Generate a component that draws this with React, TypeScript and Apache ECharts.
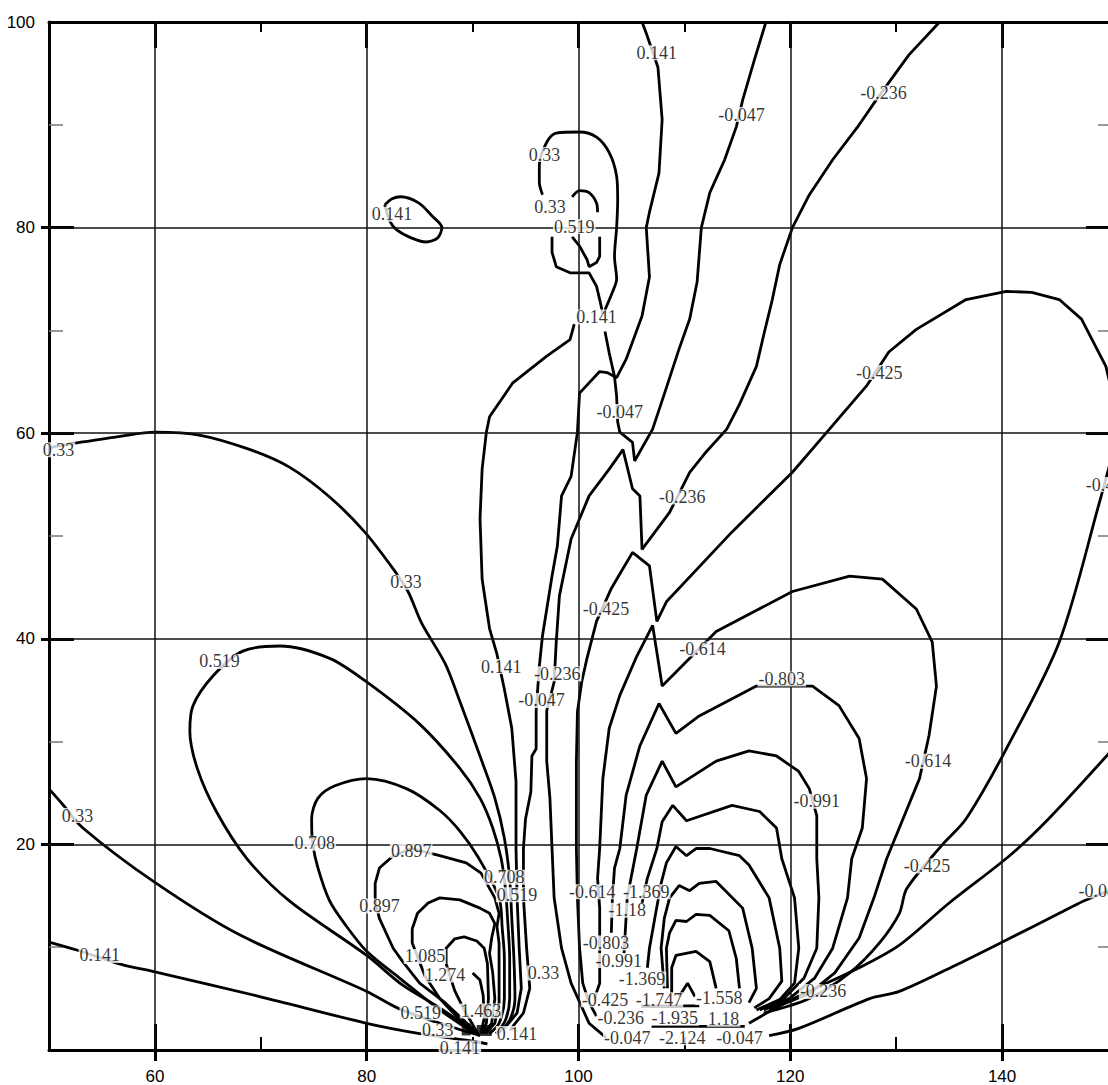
import React, { useEffect, useRef } from 'react';
import * as echarts from 'echarts';

// ---- axes ----
const xMajor = [60, 80, 100, 120, 140];
const xMinor = [70, 90, 110, 130];
const yMajor = [20, 40, 60, 80];
const yMinor = [10, 30, 50, 70, 90];
const yLabels = [20, 40, 60, 80, 100];
const gridX = [60, 80, 100, 120, 140];
const gridY = [20, 40, 60, 80];

// ---- contour lines (x, y) ----
const c0141Left = [[50,10.5],[52.7,9.7],[56.9,8.3],[60,7.6],[69.9,5.2],[80,2.6],[85,1.6],[89.7,0.9],[91.4,0.6]];
const c033Left = [[50,25.4],[51.2,24.0],[53.2,21.6],[60,16.3],[68,11.2],[80,5.7],[83.1,4.0],[86.9,2.6],[90.7,1.4]];
const c033Arc = [[50,58.6],[52.9,59.1],[56.7,59.7],[60,60.1],[64.3,59.8],[69.0,58.4],[72.7,56.7],[76.5,53.8],[79.8,50.4],[82.5,46.8],[83.9,44.6],[85.2,41.5],[87.4,37.6],[88.8,33.9],[90.8,28.3],[92.1,24.5],[93.0,20.6],[93.5,16.7],[93.7,12.8],[93.9,8.9],[94.0,5.0],[93.5,2.9],[92.5,1.7]];
const c0519Loop = [[89.7,2.1],[86.9,4.1],[83.4,6.3],[80,9.2],[72.7,14.5],[68.7,18.6],[65.8,23.2],[64.0,27.4],[63.3,31.0],[63.6,33.5],[65.5,36.4],[68.3,38.8],[71.8,39.3],[76.5,38.1],[80,35.8],[85.0,31.7],[88.8,27.4],[90.7,24.5],[91.9,21.6],[92.7,18.6],[93.1,15.7],[93.3,12.8],[93.5,8.9],[93.5,5.0],[93.1,2.9],[92.2,1.6]];
const c0708Loop = [[90.2,1.6],[86.9,3.9],[83.1,7.0],[80,9.6],[77.9,12.3],[76.5,14.5],[75.4,17.7],[74.9,20.1],[74.8,22.5],[75.4,24.5],[77.0,25.7],[80,26.4],[83.8,25.4],[86.9,23.3],[88.8,21.3],[90.5,18.8],[92.5,14.8],[92.8,11.8],[93.0,8.9],[93.0,5.0],[92.5,2.6],[91.6,1.6]];
const c0897Loop = [[90.5,1.6],[87.4,4.6],[85.0,6.5],[83.4,8.6],[82.5,9.9],[81.2,12.8],[80.8,14.5],[80.8,16.2],[81.2,17.7],[82.4,18.8],[84.2,19.6],[86.9,18.9],[89.4,18.2],[90.8,17.2],[92.1,14.8],[92.5,13.3],[92.3,12.0],[92.5,10.4],[92.5,7.5],[92.5,4.6],[92.1,2.6],[91.2,1.6]];
const c1085Loop = [[90.7,1.4],[88.8,2.9],[86.9,5.0],[85.5,7.2],[84.3,10.4],[84.3,11.8],[84.8,13.3],[85.8,14.3],[86.9,14.8],[88.8,14.6],[90.7,13.8],[91.6,13.3],[92.1,12.3],[91.8,10.9],[91.6,9.4],[91.9,7.5],[92.1,5.0],[91.8,2.6],[91.0,1.6]];
const c1274Loop = [[90.5,1.6],[89.2,3.9],[88.3,5.8],[87.5,8.4],[87.5,9.9],[88.3,10.8],[89.2,11.0],[90.4,10.6],[91.1,9.9],[91.4,8.4],[91.5,5.0],[91.3,2.6],[90.8,1.6]];
const c1463 = [[90.0,7.5],[90.7,6.8],[91.0,5.3],[91.1,3.1],[90.8,1.7]];
const c0141Center = [[99.6,70.6],[99.2,69.1],[97.0,67.5],[93.8,64.9],[91.6,61.6],[91.3,60.1],[90.9,56.5],[90.7,51.7],[90.9,45.8],[91.6,41.0],[92.3,38.5],[93.0,35.1],[93.7,31.3],[94.1,26.1],[94.1,23.2],[94.1,19.6],[94.2,14.8],[94.4,9.9],[94.6,6.0],[94.2,3.6],[93.0,2.1]];
const c0141Top = [[106.0,100],[106.4,98.9],[107.5,95.6],[107.9,90.5],[107.6,85.3],[106.7,81.5],[106.4,80],[106.7,75.2],[106.0,71.4],[104.5,67.2],[103.6,65.4],[102.7,65.9],[102.0,66.0],[100.1,63.9],[99.9,60.1],[99.3,55.8],[98.4,53.9],[98.0,49.0],[97.5,46.1],[96.6,40.3],[96.3,37.3],[96.0,33.0],[96.0,29.3],[95.6,28.6],[95.5,25.1],[95.0,22.5],[94.8,19.6],[94.8,14.8],[95.1,9.9],[95.4,6.0],[94.8,3.6],[93.5,1.9]];
const cM0047Top = [[117.7,100],[116.6,96.3],[115.5,92.4],[114.9,89.8],[113.8,86.6],[112.4,83.4],[111.6,80],[111.2,74.7],[110.5,71.1],[109.5,68.2],[108.1,63.8],[107.0,60.4],[105.3,57.3],[105.1,59.1],[103.9,60.1],[103.7,61.1],[103.6,63.6],[103.4,65.5],[102.9,67.8],[102.5,69.9]];
const cM0236 = [[134.1,100],[131.2,96.8],[128.1,92.4],[126.5,90.0],[124.0,86.6],[121.8,83.2],[120.2,80],[119.0,76.4],[118.3,73.0],[117.5,69.6],[116.8,66.5],[115.2,62.8],[114.0,60.4],[111.9,58.0],[110.5,56.2],[108.6,52.3],[106.0,48.7],[105.8,53.9],[105.1,54.6],[104.2,58.4],[102.9,56.5],[101.0,53.9],[99.3,49.7],[98.2,44.2],[97.9,39.7],[97.7,35.8],[97.0,33.0],[97.0,28.1],[97.3,24.5],[97.5,19.6],[97.7,14.8],[98.4,9.9],[99.3,6.5],[101.0,2.6],[102.6,1.2]];
const cM0425 = [[150.3,64.3],[149.8,66.5],[147.5,71.1],[145.4,73.0],[142.8,73.7],[140.4,73.8],[136.6,73.0],[131.9,70.1],[129.3,67.9],[127.2,64.6],[123.7,60.4],[120.2,56.2],[114.5,50.4],[108.3,43.6],[107.4,41.7],[106.7,47.1],[105.1,48.4],[103.9,46.3],[103.1,44.9],[101.7,41.7],[100.8,38.1],[100.3,35.8],[99.9,32.9],[99.8,28.1],[99.8,19.6],[99.9,14.8],[100.1,9.9],[100.4,6.5],[101.0,4.6],[101.7,3.3]];
const cM0614 = [[101.5,5.0],[102.0,6.5],[102.0,9.9],[102.0,13.8],[101.8,16.7],[102.0,19.6],[102.3,26.4],[102.9,31.3],[103.9,34.5],[105.5,38.3],[107.0,41.3],[107.9,35.4],[110.5,38.1],[113.0,40.7],[120.2,44.6],[125.6,46.1],[128.7,45.8],[131.9,42.9],[133.4,39.7],[133.8,35.4],[133.1,30.6],[132.2,26.4],[129.1,18.6],[127.9,14.8],[126.5,10.9],[124.2,7.5],[121.8,5.5],[118.0,3.9]];
const cM0803 = [[103.1,11.4],[103.2,14.8],[103.4,17.7],[103.9,19.6],[104.5,24.8],[105.8,29.6],[107.6,33.7],[109.2,30.8],[111.4,32.5],[116.8,35.4],[122.1,35.4],[124.6,33.5],[126.5,30.3],[127.2,26.4],[126.8,21.6],[125.8,18.6],[125.4,14.8],[124.0,9.9],[122.3,7.0],[119.9,5.0],[117.5,3.9]];
const cM0991 = [[104.3,9.4],[104.6,14.8],[105.5,19.6],[106.4,24.8],[107.9,28.1],[109.2,25.6],[113.0,28.1],[116.1,29.1],[118.7,28.6],[120.8,27.1],[121.8,25.4],[122.5,22.8],[122.5,18.6],[122.7,14.8],[122.5,9.9],[121.3,7.0],[119.4,5.0],[117.1,3.9]];
const cM118 = [[106.0,14.3],[106.5,16.7],[107.4,19.6],[107.9,22.2],[108.9,23.8],[110.2,22.3],[114.5,23.8],[117.1,23.2],[118.7,21.6],[119.2,18.6],[120.4,14.8],[120.8,9.9],[120.4,6.5],[119.0,4.9],[116.8,3.9]];
const cM1369 = [[106.5,8.0],[106.7,9.9],[107.2,12.8],[107.8,16.2],[108.3,18.2],[109.2,19.8],[110.2,18.9],[111.1,19.6],[112.4,19.6],[115.2,18.9],[116.1,18.0],[118.0,14.8],[119.0,9.9],[119.2,6.7],[118.0,5.0],[116.6,4.1]];
const cM1558 = [[108.1,6.0],[107.8,9.9],[108.1,12.8],[108.6,14.8],[109.5,16.0],[110.5,15.5],[111.4,16.2],[113.0,16.4],[115.5,13.8],[116.4,9.9],[116.8,6.0],[116.1,4.6]];
const cM1747 = [[108.4,6.0],[108.3,9.9],[108.6,11.4],[109.2,12.6],[110.2,12.5],[111.1,13.2],[112.4,13.1],[114.2,11.6],[114.9,8.9],[115.2,6.0]];
const cM1935 = [[108.8,5.5],[108.8,8.0],[109.2,9.2],[111.1,9.6],[112.4,8.6],[113.0,6.0]];
const cM2124 = [[109.5,5.2],[110.3,6.5],[111.0,5.2]];
const cUnder1 = [[105.9,4.3],[111.4,4.3]];
const cUnder2 = [[106.9,2.3],[115.7,2.3]];
const cM0425Low = [[117.5,3.6],[121.8,5.0],[125.6,7.5],[128.4,10.4],[130.3,13.3],[131.0,15.7],[134.3,19.9],[136.6,22.5],[140.4,29.3],[145.4,39.7],[149.2,53.3],[150.3,57.5]];
const cM0236Low = [[116.1,2.6],[119.9,4.8],[126.5,8.0],[130.3,10.2],[135.0,14.3],[140.7,18.9],[144.4,22.5],[150.3,29.1]];
const cM0047Low = [[118.0,1.4],[120.8,2.1],[127.5,5.0],[130.3,5.7],[135.9,8.4],[140.4,10.7],[145.4,13.3],[147.7,14.5],[150.3,15.6]];
const c033Top = [[96.6,83.2],[96.3,84.4],[96.3,86.1],[97.0,88.3],[97.9,89.2],[100.1,89.3],[101.7,88.8],[102.9,87.3],[103.6,85.0],[103.7,82.7],[103.6,80],[103.4,77.2],[103.6,75.0],[103.2,73.7],[102.5,72.0]];
const c033Arch = [[99.4,83.0],[100.1,83.6],[101.0,83.4],[101.7,82.4],[101.8,81.5]];
const c033Lower = [[97.5,79.1],[97.5,77.6],[97.9,76.2],[99.2,75.6],[101.0,75.6],[101.7,74.3],[102.0,73.0],[102.3,71.6]];
const c0519Small = [[99.4,79.1],[100.1,78.2],[100.8,76.9],[101.0,76.2],[101.7,76.6],[102.0,77.2],[102.0,79.1]];
const c0141Island = [[81.7,82.2],[82.4,82.8],[83.2,83.0],[84.9,82.4],[86.2,81.1],[87.1,80],[86.7,79.0],[85.6,78.6],[84.2,79.0],[82.8,79.8],[82.2,80.6],[81.7,82.2]];

// smooth: whether the traced line is a smooth curve (true) or a jagged one (false)
const contours = [
  { level: '0.141', data: c0141Left, smooth: true }, { level: '0.33', data: c033Left, smooth: true },
  { level: '0.33', data: c033Arc, smooth: true }, { level: '0.519', data: c0519Loop, smooth: true },
  { level: '0.708', data: c0708Loop, smooth: true }, { level: '0.897', data: c0897Loop, smooth: false },
  { level: '1.085', data: c1085Loop, smooth: false }, { level: '1.274', data: c1274Loop, smooth: false },
  { level: '1.463', data: c1463, smooth: false }, { level: '0.141', data: c0141Center, smooth: false },
  { level: '0.141', data: c0141Top, smooth: false }, { level: '-0.047', data: cM0047Top, smooth: false },
  { level: '-0.236', data: cM0236, smooth: false }, { level: '-0.425', data: cM0425, smooth: false },
  { level: '-0.614', data: cM0614, smooth: false }, { level: '-0.803', data: cM0803, smooth: false },
  { level: '-0.991', data: cM0991, smooth: false }, { level: '-1.18', data: cM118, smooth: false },
  { level: '-1.369', data: cM1369, smooth: false }, { level: '-1.558', data: cM1558, smooth: false },
  { level: '-1.747', data: cM1747, smooth: false }, { level: '-1.935', data: cM1935, smooth: false },
  { level: '-2.124', data: cM2124, smooth: false }, { level: '-1.935', data: cUnder1, smooth: false },
  { level: '-2.124', data: cUnder2, smooth: false }, { level: '-0.425', data: cM0425Low, smooth: true },
  { level: '-0.236', data: cM0236Low, smooth: true }, { level: '-0.047', data: cM0047Low, smooth: true },
  { level: '0.33', data: c033Top, smooth: true }, { level: '0.33', data: c033Arch, smooth: true },
  { level: '0.33', data: c033Lower, smooth: false }, { level: '0.519', data: c0519Small, smooth: false },
  { level: '0.141', data: c0141Island, smooth: true },
];

const singularBlocks = [[89.4, 2.0], [91.1, 1.9]];
const singularSizes = [[9, 12], [15, 11]];

// ---- contour labels (x, y, text) ----
const contourLabels: [number, number, string][] = [
  [107.4,97.0,'0.141'], [115.4,91.0,'-0.047'], [128.8,93.1,'-0.236'], [96.8,87.1,'0.33'],
  [97.3,82.0,'0.33'], [99.6,80.1,'0.519'], [82.4,81.3,'0.141'], [101.7,71.3,'0.141'],
  [103.9,62.1,'-0.047'], [128.4,65.9,'-0.425'], [50.9,58.4,'0.33'], [109.8,53.8,'-0.236'],
  [150.1,55.0,'-0.425'], [83.7,45.5,'0.33'], [102.6,42.9,'-0.425'], [111.7,39.0,'-0.614'],
  [66.1,37.8,'0.519'], [92.7,37.3,'0.141'], [98.0,36.6,'-0.236'], [119.2,36.1,'-0.803'],
  [96.5,34.0,'-0.047'], [133.0,28.1,'-0.614'], [122.5,24.2,'-0.991'], [52.7,22.8,'0.33'],
  [75.1,20.1,'0.708'], [84.2,19.4,'0.897'], [132.9,17.9,'-0.425'], [149.4,15.5,'-0.047'],
  [93.0,16.8,'0.708'], [94.2,15.1,'0.519'], [101.3,15.4,'-0.614'], [106.4,15.4,'-1.369'],
  [81.2,14.0,'0.897'], [104.6,13.6,'-1.18'], [102.6,10.4,'-0.803'], [85.5,9.1,'1.085'],
  [54.8,9.2,'0.141'], [103.8,8.7,'-0.991'], [96.7,7.5,'0.33'], [87.4,7.3,'1.274'],
  [106.0,6.9,'-1.369'], [123.1,5.7,'-0.236'], [102.5,4.9,'-0.425'], [107.6,4.9,'-1.747'],
  [113.3,5.1,'-1.558'], [85.1,3.6,'0.519'], [90.8,3.8,'1.463'], [104.0,3.1,'-0.236'],
  [109.1,3.1,'-1.935'], [113.7,3.0,'1.18'], [104.6,1.2,'-0.047'], [109.8,1.2,'-2.124'],
  [115.2,1.2,'-0.047'], [86.7,1.9,'0.33'], [94.2,1.6,'0.141'], [88.8,0.2,'0.141'],
];

const tickFont = { color: '#000', fontFamily: 'Liberation Sans', fontSize: 17 };

function xAx(position: string, opts: any) {
  return {
    type: 'value', min: 50, max: 150, position, splitLine: { show: false },
    axisLine: { show: false, onZero: false }, axisLabel: { show: false }, ...opts,
  };
}
function yAx(position: string, opts: any) {
  return {
    type: 'value', min: 0, max: 100, position, splitLine: { show: false },
    axisLine: { show: false, onZero: false }, axisLabel: { show: false }, ...opts,
  };
}

export default function App() {
  const ref = useRef<HTMLDivElement>(null);
  useEffect(() => {
    const chart = echarts.init(ref.current!, null, { renderer: 'svg' });
    const lineSeries = contours.map((c) => ({
      type: 'line', name: c.level, data: c.data, symbol: 'none', showSymbol: false,
      smooth: c.smooth ? 0.3 : false,
      lineStyle: { color: '#000', width: 2.8 }, silent: true, z: 3, clip: true,
    }));
    chart.setOption({
      animation: false,
      backgroundColor: '#fff',
      grid: { left: 49, right: -1, top: 22, bottom: 33, containLabel: false },
      xAxis: [
        xAx('bottom', {
          axisLine: { show: true, onZero: false, lineStyle: { color: '#000', width: 3 } },
          axisTick: { show: true, inside: true, length: 26, customValues: xMajor, lineStyle: { color: '#000', width: 3 } },
          axisLabel: { show: true, customValues: xMajor, margin: 18, ...tickFont },
        }),
        xAx('bottom', { axisTick: { show: true, inside: false, length: 11, customValues: xMajor, lineStyle: { color: '#000', width: 3 } } }),
        xAx('bottom', { axisTick: { show: true, inside: true, length: 13, customValues: xMinor, lineStyle: { color: '#000', width: 2 } } }),
        xAx('top', {
          axisLine: { show: true, onZero: false, lineStyle: { color: '#000', width: 3 } },
          axisTick: { show: true, inside: true, length: 26, customValues: xMajor, lineStyle: { color: '#000', width: 3 } },
        }),
        xAx('top', { axisTick: { show: true, inside: true, length: 10, customValues: xMinor, lineStyle: { color: '#000', width: 2 } } }),
      ],
      yAxis: [
        yAx('left', {
          axisLine: { show: true, onZero: false, lineStyle: { color: '#000', width: 3 } },
          axisTick: { show: true, inside: true, length: 25, customValues: yMajor, lineStyle: { color: '#000', width: 3 } },
          axisLabel: { show: true, customValues: yLabels, margin: 14, ...tickFont },
        }),
        yAx('left', { axisTick: { show: true, inside: false, length: 8, customValues: yMajor, lineStyle: { color: '#000', width: 3 } } }),
        yAx('left', { axisTick: { show: true, inside: true, length: 14, customValues: yMinor, lineStyle: { color: '#777', width: 1.5 } } }),
        yAx('right', { axisTick: { show: true, inside: true, length: 22, customValues: yMajor, lineStyle: { color: '#000', width: 3 } } }),
        yAx('right', { axisTick: { show: true, inside: true, length: 10, customValues: yMinor, lineStyle: { color: '#777', width: 1.5 } } }),
      ],
      series: [
        {
          type: 'line', data: [[50, 0]], symbol: 'none', silent: true, z: 1,
          lineStyle: { width: 0 },
          markLine: {
            silent: true, symbol: ['none', 'none'], label: { show: false },
            lineStyle: { color: '#111', width: 1.5, type: 'solid' },
            emphasis: { disabled: true },
            data: [...gridX.map((v) => ({ xAxis: v })), ...gridY.map((v) => ({ yAxis: v }))],
          },
        },
        ...lineSeries,
        {
          type: 'scatter', silent: true, z: 4,
          data: singularBlocks.map((p, i) => ({ value: p, symbolSize: singularSizes[i] })),
          symbol: 'rect', itemStyle: { color: '#000' },
        },
        {
          type: 'scatter', silent: true, z: 10, clip: false,
          data: contourLabels.map((l) => ({ value: [l[0], l[1]], name: l[2] })),
          symbolSize: 1, itemStyle: { color: 'rgba(0,0,0,0)' },
          label: {
            show: true, position: 'inside', formatter: '{b}', color: '#000',
            fontFamily: 'Liberation Serif', fontSize: 18, lineHeight: 15,
            backgroundColor: '#fff', padding: [0, 1, 0, 1],
          },
        },
      ],
    });
    return () => chart.dispose();
  }, []);
  return (
    <div
      ref={ref}
      style={{ position: 'absolute', left: 0, top: 0, width: 1108, height: 1085, background: '#fff' }}
    />
  );
}
